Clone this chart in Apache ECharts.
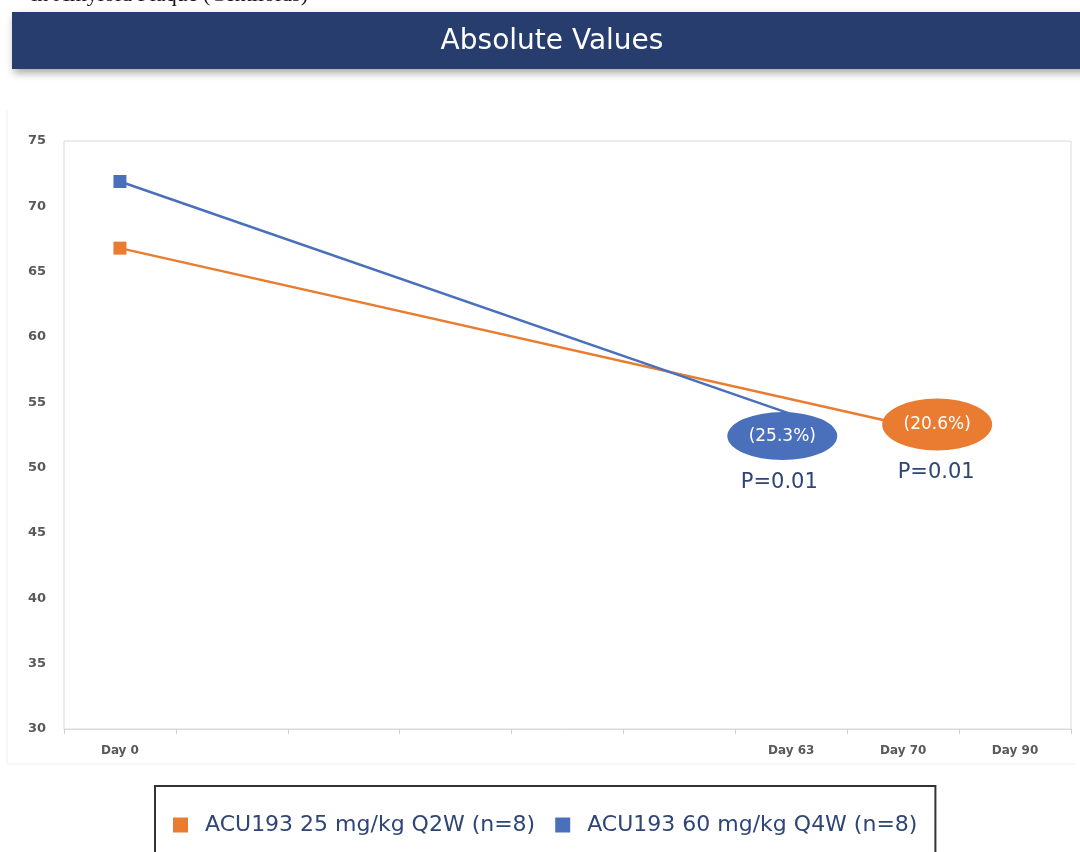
<!DOCTYPE html>
<html>
<head>
<meta charset="utf-8">
<script src="https://cdn.jsdelivr.net/npm/echarts@6/dist/echarts.min.js"></script>
<style>
html,body{margin:0;padding:0;background:#fff;}
#chart{width:1080px;height:852px;}
</style>
</head>
<body>
<div id="chart"></div>
<script>
// ---- data ----
const tickLabels = ['Day 0', '', '', '', '', '', 'Day 63', 'Day 70', 'Day 90'];
const seriesNames = ['ACU193 25 mg/kg Q2W (n=8)', 'ACU193 60 mg/kg Q4W (n=8)'];
const orangeValues = [66.8, null, null, null, null, null, null, 53.3, null];
const blueValues = [71.9, null, null, null, null, null, 54.1, null, null];
const orangeChange = '(20.6%)';
const blueChange = '(25.3%)';
const orangeP = 'P=0.01';
const blueP = 'P=0.01';
const yTicks = [30, 35, 40, 45, 50, 55, 60, 65, 70, 75];

const ORANGE = '#E97C30';
const BLUE = '#4A70BC';
const NAVY = '#2E4576';
const FONT = '"DejaVu Sans", "Open Sans", sans-serif';
const ELLIPSE = 'path://M0,24 A55,24 0 1,1 110,24 A55,24 0 1,1 0,24 Z';

const catKeys = tickLabels.map((l, i) => l || ('gap' + i));

function lastIndex(arr) {
  let k = -1;
  arr.forEach((v, i) => { if (v != null) k = i; });
  return k;
}
function seriesData(arr) {
  const last = lastIndex(arr);
  return arr.map((v, i) => (i === last && v != null) ? { value: v, symbol: 'none' } : v);
}

const chart = echarts.init(document.getElementById('chart'), null, { renderer: 'canvas' });

const bi = lastIndex(blueValues), oi = lastIndex(orangeValues);

chart.setOption({
  backgroundColor: '#fff',
  animation: false,
  graphic: [
    { type: 'text', x: 308, y: 6, z: 10,
      style: { text: 'in Amyloid Plaque (Centiloids)', font: '22px "Liberation Serif", serif', fill: '#111',
        textAlign: 'right', textVerticalAlign: 'bottom' } },
    { type: 'line', shape: { x1: 7, y1: 110, x2: 7, y2: 764 }, style: { stroke: '#F0F0F0', lineWidth: 1 }, z: 0 },
    { type: 'line', shape: { x1: 7, y1: 764, x2: 1076, y2: 764 }, style: { stroke: '#F0F0F0', lineWidth: 1 }, z: 0 },
    { type: 'rect', shape: { x: 12, y: 12, width: 1075, height: 57 },
      style: { fill: '#263D6D', shadowBlur: 8, shadowOffsetY: 4, shadowOffsetX: 2, shadowColor: 'rgba(0,0,0,0.35)' }, z: 5 },
    { type: 'text', x: 552, y: 42, z: 6,
      style: { text: 'Absolute Values', font: '28px ' + FONT, fill: '#fff', textAlign: 'center', textVerticalAlign: 'middle' } }
  ],
  grid: { left: 64, right: 9, top: 141, bottom: 123, show: true, borderColor: '#DADADA', borderWidth: 1 },
  legend: {
    left: 155, top: 786,
    data: seriesNames,
    icon: 'rect', itemWidth: 15, itemHeight: 15, itemGap: 20,
    padding: [28, 18, 60, 18],
    borderColor: '#333', borderWidth: 2,
    textStyle: { fontFamily: FONT, fontSize: 22, color: NAVY, padding: [0, 0, 0, 12] }
  },
  xAxis: {
    type: 'category',
    data: catKeys,
    boundaryGap: true,
    axisLine: { show: true, lineStyle: { color: '#DADADA' } },
    axisTick: { show: true, length: 5, lineStyle: { color: '#D0D0D0' } },
    axisLabel: { formatter: v => v.startsWith('gap') ? '' : v, interval: 0, margin: 16,
      fontFamily: FONT, fontSize: 12, fontWeight: 'bold', color: '#595959' },
    splitLine: { show: false }
  },
  yAxis: {
    type: 'value', min: yTicks[0], max: yTicks[yTicks.length - 1], interval: 5,
    axisLine: { show: false },
    axisTick: { show: false },
    splitLine: { show: false },
    axisLabel: { margin: 18, fontFamily: FONT, fontSize: 13, fontWeight: 'bold', color: '#595959' }
  },
  series: [
    {
      name: seriesNames[0], type: 'line', data: seriesData(orangeValues), connectNulls: true,
      symbol: 'rect', symbolSize: 13, color: ORANGE,
      lineStyle: { width: 2.5, color: ORANGE }, itemStyle: { color: ORANGE },
      markPoint: {
        z: 10,
        data: [
          { coord: [catKeys[oi], orangeValues[oi]], symbol: ELLIPSE, symbolSize: [110, 52], symbolOffset: [34, 0],
            itemStyle: { color: ORANGE },
            label: { show: true, position: 'inside', formatter: orangeChange, color: '#fff', fontFamily: FONT, fontSize: 17 } },
          { coord: [catKeys[oi], orangeValues[oi]], symbol: 'rect', symbolSize: [80, 24], symbolOffset: [33, 48],
            itemStyle: { color: 'rgba(0,0,0,0)' },
            label: { show: true, position: 'inside', formatter: orangeP, color: NAVY, fontFamily: FONT, fontSize: 21 } }
        ]
      }
    },
    {
      name: seriesNames[1], type: 'line', data: seriesData(blueValues), connectNulls: true,
      symbol: 'rect', symbolSize: 13, color: BLUE,
      lineStyle: { width: 2.5, color: BLUE }, itemStyle: { color: BLUE },
      markPoint: {
        z: 10,
        data: [
          { coord: [catKeys[bi], blueValues[bi]], symbol: ELLIPSE, symbolSize: [110, 48], symbolOffset: [-9, 22],
            itemStyle: { color: BLUE },
            label: { show: true, position: 'inside', formatter: blueChange, color: '#fff', fontFamily: FONT, fontSize: 17 } },
          { coord: [catKeys[bi], blueValues[bi]], symbol: 'rect', symbolSize: [80, 24], symbolOffset: [-12, 68],
            itemStyle: { color: 'rgba(0,0,0,0)' },
            label: { show: true, position: 'inside', formatter: blueP, color: NAVY, fontFamily: FONT, fontSize: 21 } }
        ]
      }
    }
  ]
});
</script>
</body>
</html>
